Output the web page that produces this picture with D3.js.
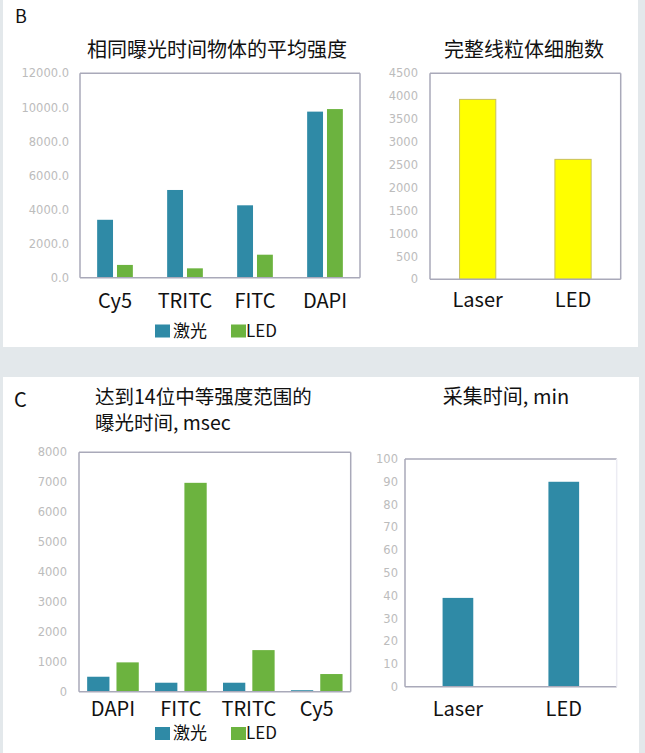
<!DOCTYPE html>
<html>
<head>
<meta charset="utf-8">
<script src="https://cdn.jsdelivr.net/npm/d3@7"></script>
<style>
  body { margin: 0; background: #e3e8eb; }
  svg { display: block; }
</style>
</head>
<body>
<svg width="645" height="753"></svg>
<script>
// chart B-left: average intensity, same exposure
const intensityChannels = ["Cy5", "TRITC", "FITC", "DAPI"];
const intensityLaser = [3400, 5150, 4250, 9750];
const intensityLed = [750, 550, 1350, 9900];
const intensityTicks = [0, 2000, 4000, 6000, 8000, 10000, 12000];

// chart B-right: intact mitochondria cell count
const cellSources = ["Laser", "LED"];
const cellCounts = [3930, 2620];
const cellTicks = [0, 500, 1000, 1500, 2000, 2500, 3000, 3500, 4000, 4500];

// chart C-left: exposure time to reach 14-bit mid range, msec
const exposureChannels = ["DAPI", "FITC", "TRITC", "Cy5"];
const exposureLaser = [500, 300, 300, 50];
const exposureLed = [980, 6980, 1390, 590];
const exposureTicks = [0, 1000, 2000, 3000, 4000, 5000, 6000, 7000, 8000];

// chart C-right: acquisition time, min
const acqSources = ["Laser", "LED"];
const acqMinutes = [39, 90];
const acqTicks = [0, 10, 20, 30, 40, 50, 60, 70, 80, 90, 100];

const seriesNames = ["激光", "LED"];
const blue = "#2f8aa6", green = "#6cb33f";

const cjk = "'Noto Sans CJK SC', 'Noto Sans', sans-serif";
const svg = d3.select("svg");

// panels
svg.append("rect").attr("x", 3).attr("y", 0).attr("width", 635).attr("height", 347).attr("fill", "#fff");
svg.append("rect").attr("x", 3).attr("y", 377).attr("width", 636).attr("height", 376).attr("fill", "#fff");

function frame(g, w, h, noRight) {
    g.append("line").attr("x1", 0).attr("x2", w).attr("y1", 0).attr("y2", 0)
        .attr("stroke", "#a9a9b9").attr("stroke-width", 1.5);
    g.append("line").attr("x1", 0).attr("x2", 0).attr("y1", 0).attr("y2", h)
        .attr("stroke", "#a9a9b9").attr("stroke-width", 1.5);
    g.append("line").attr("x1", 0).attr("x2", w).attr("y1", h).attr("y2", h)
        .attr("stroke", "#a9a9b9").attr("stroke-width", 1.5);
    g.append("line").attr("x1", w).attr("x2", w).attr("y1", 0).attr("y2", h)
        .attr("stroke", noRight ? "#ececf3" : "#a9a9b9").attr("stroke-width", 1.5);
}

function yAxis(g, y, ticks, fmt, gap) {
    const ax = d3.axisLeft(y).tickValues(ticks).tickFormat(fmt).tickSize(0).tickPadding(gap);
    const a = g.append("g").call(ax);
    a.select(".domain").remove();
    a.selectAll("text")
        .attr("font-family", "'DejaVu Sans', sans-serif")
        .attr("font-size", "11.5px")
        .attr("fill", "#bcbcbc");
}

function xLabels(g, x, h, names, below) {
    g.selectAll(".xl").data(names).enter().append("text")
        .attr("x", d => x(d) + x.bandwidth() / 2)
        .attr("y", h + below)
        .attr("text-anchor", "middle")
        .attr("font-family", cjk)
        .attr("font-size", "20px")
        .attr("fill", "#111")
        .text(d => d);
}

function legend(left, top) {
    const lg = svg.append("g").attr("transform", `translate(${left}, ${top})`);
    lg.append("rect").attr("x", 0).attr("y", 0).attr("width", 15).attr("height", 13).attr("fill", blue);
    lg.append("text").attr("x", 18).attr("y", 12).attr("font-family", cjk).attr("font-size", "17px")
        .attr("fill", "#111").text(seriesNames[0]);
    lg.append("rect").attr("x", 76).attr("y", 0).attr("width", 15).attr("height", 13).attr("fill", green);
    lg.append("text").attr("x", 91).attr("y", 12).attr("font-family", cjk).attr("font-size", "17px")
        .attr("fill", "#111").text(seriesNames[1]);
}

function groupedChart(left, top, w, h, channels, laser, led, ticks, fmt, gap, outerPad, innerPad, below) {
    const g = svg.append("g").attr("transform", `translate(${left}, ${top})`);
    const x0 = d3.scaleBand().domain(channels).range([0, w]).paddingInner(outerPad).paddingOuter(outerPad / 2);
    const x1 = d3.scaleBand().domain(seriesNames).range([0, x0.bandwidth()]).paddingInner(innerPad);
    const y = d3.scaleLinear().domain([ticks[0], ticks[ticks.length - 1]]).range([h, 0]);
    const rows = channels.map((c, i) => ({ c: c, v: [laser[i], led[i]] }));

    const grp = g.selectAll(".grp").data(rows).enter().append("g")
        .attr("transform", d => `translate(${x0(d.c)}, 0)`);
    grp.selectAll("rect").data(d => d.v.map((v, j) => ({ s: seriesNames[j], v: v }))).enter().append("rect")
        .attr("x", d => x1(d.s))
        .attr("y", d => y(d.v))
        .attr("width", x1.bandwidth())
        .attr("height", d => h - y(d.v))
        .attr("fill", d => d.s === seriesNames[0] ? blue : green);

    frame(g, w, h, false);
    yAxis(g, y, ticks, fmt, gap);
    xLabels(g, x0, h, channels, below);
    return g;
}

function simpleChart(left, top, w, h, names, values, ticks, pad, fill, stroke, gap, below, noRight) {
    const g = svg.append("g").attr("transform", `translate(${left}, ${top})`);
    const x = d3.scaleBand().domain(names).range([0, w]).paddingInner(pad).paddingOuter(pad / 2);
    const y = d3.scaleLinear().domain([ticks[0], ticks[ticks.length - 1]]).range([h, 0]);
    g.selectAll(".bar").data(values).enter().append("rect")
        .attr("x", (d, i) => x(names[i]))
        .attr("y", d => y(d))
        .attr("width", x.bandwidth())
        .attr("height", d => h - y(d))
        .attr("fill", fill)
        .attr("stroke", stroke)
        .attr("stroke-width", stroke === "none" ? 0 : 1);
    frame(g, w, h, noRight);
    yAxis(g, y, ticks, d3.format("d"), gap);
    xLabels(g, x, h, names, below);
    return g;
}

// panel labels and titles
function label(x, y, t, size, anchor) {
    svg.append("text").attr("x", x).attr("y", y)
        .attr("text-anchor", anchor || "start")
        .attr("font-family", cjk).attr("font-size", size).attr("fill", "#111").text(t);
}

label(15, 23, "B", "18px");
label(217, 57, "相同曝光时间物体的平均强度", "20px", "middle");
label(524, 57, "完整线粒体细胞数", "20px", "middle");

label(14, 407, "C", "20px");
label(95, 404, "达到14位中等强度范围的", "19.5px");
label(95, 430, "曝光时间, msec", "19.5px");
label(506, 404, "采集时间, min", "20px", "middle");

groupedChart(80, 73.3, 280, 204.4, intensityChannels, intensityLaser, intensityLed,
    intensityTicks, d3.format(".1f"), 11, 0.49, 0.2, 30);
legend(155, 324.5);

simpleChart(430, 73.3, 190.7, 206, cellSources, cellCounts, cellTicks, 0.62,
    "#ffff00", "#c9c05c", 12, 28, false);

groupedChart(79, 452.3, 271.7, 239.4, exposureChannels, exposureLaser, exposureLed,
    exposureTicks, d3.format("d"), 12, 0.24, 0.24, 24.5);
legend(155, 727);

simpleChart(405, 459, 211.7, 227.7, acqSources, acqMinutes, acqTicks, 0.71,
    blue, "none", 7, 29.5, true);
</script>
</body>
</html>
